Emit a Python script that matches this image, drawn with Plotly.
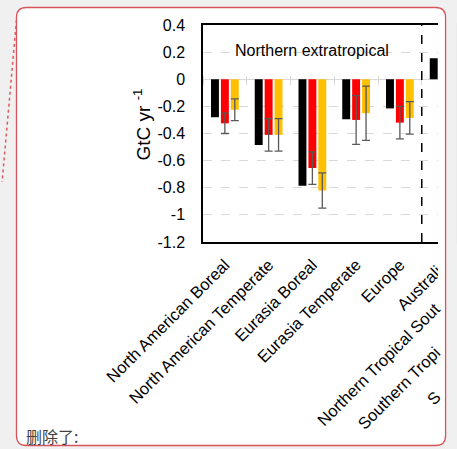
import math
import plotly.graph_objects as go

# ---------------- data ----------------
categories = ["North American Boreal", "North American Temperate", "Eurasia Boreal",
              "Eurasia Temperate", "Europe", "Australia",
              "Northern Tropical South America", "Southern Tropical South America",
              "Southern Africa"]
# visible part of the labels that are cut off by the right edge of the frame
clipped_label_text = ["Northern Tropical Sout", "Southern Tropi", "S"]

black_vals = [-0.28, -0.485, -0.785, -0.295, -0.215, 0.155]
red_vals = [-0.325, -0.41, -0.655, -0.30, -0.32]
red_err = [0.075, 0.12, 0.12, 0.18, 0.12]
yellow_vals = [-0.225, -0.41, -0.82, -0.25, -0.285]
yellow_err = [0.08, 0.12, 0.13, 0.20, 0.12]

y_tick_vals = [0.4, 0.2, 0, -0.2, -0.4, -0.6, -0.8, -1, -1.2]
y_tick_text = ["0.4", "0.2", "0", "-0.2", "-0.4", "-0.6", "-0.8", "-1", "-1.2"]
n_northern = 5
region_title = "Northern extratropical"
y_title = "GtC yr <sup>-1</sup>"
note_text = "删除了:"

# ---------------- layout geometry ----------------
W, H = 457, 449
L, R, T, B = 203, 0, 25, 207
PW, PH = W - L - R, H - T - B
cat_w = 44.1
x_range = [-0.5, -0.5 + PW / cat_w]
y_range = [-1.2, 0.4]
FONT = "Arial, Liberation Sans, sans-serif"
LABEL_SIZE = 16.5

# approximate Arial advance widths (em) for sizing the cut-off labels
ARIAL_W = {"N": .722, "o": .556, "r": .333, "t": .278, "h": .556, "e": .556, "n": .556,
           " ": .278, "T": .611, "p": .556, "i": .222, "c": .5, "a": .556, "l": .222,
           "S": .667, "u": .556}


def text_len(s, size):
    return sum(ARIAL_W.get(ch, .556) for ch in s) * size


def fx(px):
    return (px - L) / PW


def fy(py):
    return (H - B - py) / PH


def xpix(i):
    return L + (i - x_range[0]) / (x_range[1] - x_range[0]) * PW


fig = go.Figure()
fig.add_trace(go.Bar(x=categories[:len(black_vals)], y=black_vals, marker_color="#000000",
                     marker_line_width=0, name="a", showlegend=False))
fig.add_trace(go.Bar(x=categories[:len(red_vals)], y=red_vals, marker_color="#FF0000",
                     marker_line_width=0, name="b", showlegend=False,
                     error_y=dict(type="data", array=red_err, color="#595959",
                                  thickness=1.3, width=4)))
fig.add_trace(go.Bar(x=categories[:len(yellow_vals)], y=yellow_vals, marker_color="#FFC000",
                     marker_line_width=0, name="c", showlegend=False,
                     error_y=dict(type="data", array=yellow_err, color="#595959",
                                  thickness=1.3, width=4)))
# helper trace for the category axis drawn along y = 0
fig.add_trace(go.Scatter(x=categories, y=[None] * len(categories), xaxis="x2",
                         mode="markers", showlegend=False, hoverinfo="skip"))

zero_pos = (0 - y_range[0]) / (y_range[1] - y_range[0])

fig.update_layout(
    width=W, height=H,
    margin=dict(l=L, r=R, t=T, b=B, pad=0),
    paper_bgcolor="#F0F0F0",
    plot_bgcolor="#FFFFFF",
    barmode="group", bargap=0.32, bargroupgap=0.2,
    font=dict(family=FONT, color="#000000"),
    xaxis=dict(type="category", categoryorder="array", categoryarray=categories,
               range=x_range, showline=True, linecolor="#000000", linewidth=1.5,
               mirror=True, ticks="", tickangle=-45, showgrid=False,
               tickfont=dict(size=LABEL_SIZE, family=FONT, color="#000000"),
               ticklabelstandoff=5, fixedrange=True),
    xaxis2=dict(type="category", categoryorder="array", categoryarray=categories,
                range=x_range, overlaying="x", anchor="free",
                position=zero_pos + 4 / PH, side="bottom",
                showline=False, ticks="outside", tickson="boundaries", ticklen=9,
                tickcolor="#D9D9D9", tickwidth=1, showticklabels=False, showgrid=False),
    yaxis=dict(range=y_range, tickvals=y_tick_vals, ticktext=y_tick_text,
               showline=True, linecolor="#000000", linewidth=1.5, mirror=True,
               ticks="", showgrid=True, gridcolor="#D9D9D9", griddash="dash",
               gridwidth=1, zeroline=True, zerolinecolor="#D9D9D9", zerolinewidth=1,
               tickfont=dict(size=16, family=FONT, color="#000000"),
               ticklabelstandoff=13),
)

shapes = []
# white comment frame (background)
fl, ft, fr, fb, rad = 15, 7.5, 447.5, 445.5, 10


def frame_path(x0, y0, x1, y1, r):
    return (f"M {fx(x0 + r)},{fy(y0)} L {fx(x1 - r)},{fy(y0)} "
            f"Q {fx(x1)},{fy(y0)} {fx(x1)},{fy(y0 + r)} L {fx(x1)},{fy(y1 - r)} "
            f"Q {fx(x1)},{fy(y1)} {fx(x1 - r)},{fy(y1)} L {fx(x0 + r)},{fy(y1)} "
            f"Q {fx(x0)},{fy(y1)} {fx(x0)},{fy(y1 - r)} L {fx(x0)},{fy(y0 + r)} "
            f"Q {fx(x0)},{fy(y0)} {fx(x0 + r)},{fy(y0)} Z")


shapes.append(dict(type="path", xref="paper", yref="paper", layer="below",
                   path=frame_path(fl, ft, fr, fb, rad), fillcolor="#FFFFFF",
                   line=dict(width=0)))
# separator between regions
shapes.append(dict(type="line", xref="x", yref="paper", x0=n_northern - 0.5,
                   x1=n_northern - 0.5, y0=0, y1=1, layer="above",
                   line=dict(color="#000000", width=1.5, dash="dash")))
# crop of the embedded picture at its right edge
crop = 440
shapes.append(dict(type="rect", xref="paper", yref="paper", layer="above",
                   x0=fx(crop), x1=fx(W + 2), y0=fy(H + 2), y1=fy(-2),
                   fillcolor="#F0F0F0", line=dict(width=0)))
shapes.append(dict(type="path", xref="paper", yref="paper", layer="above",
                   path=(f"M {fx(crop)},{fy(ft)} L {fx(fr - rad)},{fy(ft)} "
                         f"Q {fx(fr)},{fy(ft)} {fx(fr)},{fy(ft + rad)} "
                         f"L {fx(fr)},{fy(fb - rad)} Q {fx(fr)},{fy(fb)} {fx(fr - rad)},{fy(fb)} "
                         f"L {fx(crop)},{fy(fb)} Z"),
                   fillcolor="#FFFFFF", line=dict(width=0)))
# frame border
shapes.append(dict(type="path", xref="paper", yref="paper", layer="above",
                   path=frame_path(fl, ft, fr, fb, rad), fillcolor="rgba(0,0,0,0)",
                   line=dict(color="#D9545A", width=1.3)))
# dotted connector line
shapes.append(dict(type="line", xref="paper", yref="paper", layer="above",
                   x0=fx(15), y0=fy(20), x1=fx(0.5), y1=fy(182),
                   line=dict(color="#DC5A60", width=1.5, dash="dot")))
fig.update_layout(shapes=shapes)

annotations = [
    dict(text=region_title, x=(n_northern - 1) / 2, y=0.215, xref="x", yref="y",
         showarrow=False, font=dict(size=16, family=FONT, color="#000000"),
         xanchor="center", yanchor="middle"),
    dict(text=y_title, textangle=-90, x=fx(142), y=fy(124), xref="paper", yref="paper",
         showarrow=False, xanchor="center", yanchor="middle",
         font=dict(size=19, family=FONT, color="#000000")),
    dict(text=note_text, x=fx(23), y=fy(436), xref="paper", yref="paper",
         showarrow=False, xanchor="left", yanchor="middle",
         font=dict(size=16, family="Noto Sans CJK SC", color="#404040")),
]
# cut-off labels of the categories beyond the picture's right edge
for k, txt in enumerate(clipped_label_text):
    i = len(categories) - len(clipped_label_text) + k
    end_x, end_y = xpix(i) + 2, 258
    half = text_len(txt, LABEL_SIZE) / 2 / math.sqrt(2)
    cx = crop - half - 1
    cy = end_y + (end_x - cx) - 5
    annotations.append(dict(text=txt, textangle=-45, x=fx(cx), y=fy(cy),
                            xref="paper", yref="paper", showarrow=False,
                            xanchor="center", yanchor="middle",
                            font=dict(size=LABEL_SIZE, family=FONT, color="#000000")))
fig.update_layout(annotations=annotations)

fig.write_html("out.html")
